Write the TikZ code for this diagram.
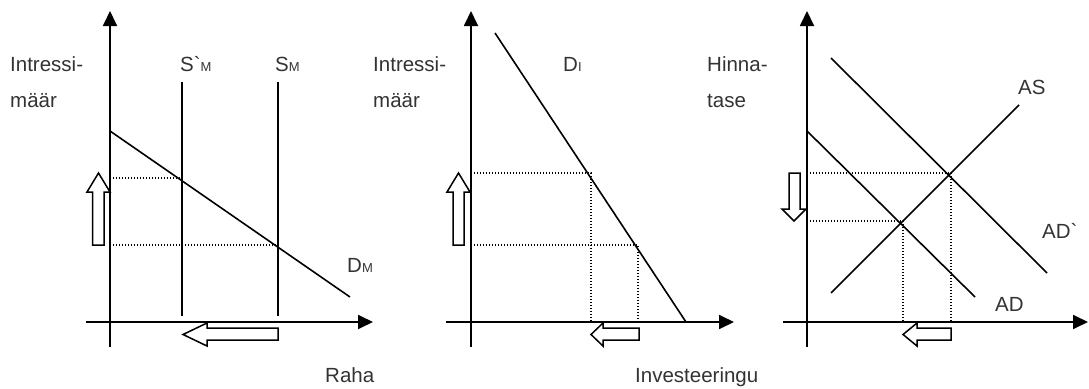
\documentclass[tikz,border=0pt]{standalone}
\usepackage{fontspec}
\newfontfamily\labfont{Liberation Sans}
\usetikzlibrary{arrows.meta}
\tikzset{
  axisline/.style={line width=1.8pt, -{Triangle[length=15pt,width=14pt]}},
  curve/.style={line width=1.6pt},
  guide/.style={line width=1.1pt, dash pattern=on 1.1pt off 1.9pt},
  hollow/.style={line width=1.5pt, fill=white, line join=miter},
  lab/.style={anchor=base west, inner sep=0pt, text=black!80, font=\labfont\fontsize{20.5}{24}\selectfont}
}
\newcommand{\sbs}[1]{{\fontsize{13}{14}\selectfont #1}}
\begin{document}
\begin{tikzpicture}[x=1pt,y=-1pt]
\useasboundingbox (0,0) rectangle (1089,388);
% ---------- Panel 1 ----------
\coordinate (y1b) at (110,347); \coordinate (y1t) at (110,11);
\coordinate (x1l) at (86,322); \coordinate (x1r) at (373,322);
\draw[axisline] (y1b) -- (y1t);
\draw[axisline] (x1l) -- (x1r);
\coordinate (dm1) at (110,131); \coordinate (dm2) at (350,297);
\draw[curve] (dm1) -- (dm2);
\coordinate (sp1) at (182,82); \coordinate (sp2) at (182,316);
\coordinate (s1) at (278,82); \coordinate (s2) at (278,316);
\draw[curve] (sp1) -- (sp2);
\draw[curve] (s1) -- (s2);
\coordinate (g1a) at (113,178); \coordinate (g1b) at (182,178);
\coordinate (g1c) at (113,245); \coordinate (g1d) at (278,245);
\draw[guide] (g1a) -- (g1b);
\draw[guide] (g1c) -- (g1d);
\draw[hollow] (92.5,245) -- (92.5,192) -- (87,192) -- (98.5,173) -- (110,192) -- (104,192) -- (104,245) -- cycle;
\draw[hollow] (278,328) -- (207,328) -- (207,323) -- (183,334.5) -- (207,346) -- (207,340) -- (278,340) -- cycle;
\node[lab] (l1a) at (10,71) {Intressi-};
\node[lab] (l1b) at (10,107) {määr};
\node[lab] (lsp) at (180,71) {S`\sbs{M}};
\node[lab] (ls) at (275,71) {S\sbs{M}};
\node[lab] (ldm) at (347,272) {D\sbs{M}};
\node[lab] (lraha) at (325,382) {Raha};
% ---------- Panel 2 ----------
\coordinate (y2b) at (471,347); \coordinate (y2t) at (471,11);
\coordinate (x2l) at (446,322); \coordinate (x2r) at (734,322);
\draw[axisline] (y2b) -- (y2t);
\draw[axisline] (x2l) -- (x2r);
\coordinate (di1) at (495,33); \coordinate (di2) at (686,322);
\draw[curve] (di1) -- (di2);
\coordinate (g2a) at (474,173); \coordinate (g2b) at (591,173); \coordinate (g2e) at (591,322);
\coordinate (g2c) at (474,245); \coordinate (g2d) at (638,245); \coordinate (g2f) at (638,322);
\draw[guide] (g2a) -- (g2b) -- (g2e);
\draw[guide] (g2c) -- (g2d) -- (g2f);
\draw[hollow] (453,245) -- (453,192) -- (447,192) -- (458.5,173) -- (470,192) -- (464,192) -- (464,245) -- cycle;
\draw[hollow] (639,328) -- (603,328) -- (603,323) -- (591,334.5) -- (603,346) -- (603,340) -- (639,340) -- cycle;
\node[lab] (l2a) at (373,71) {Intressi-};
\node[lab] (l2b) at (373,107) {määr};
\node[lab] (ldi) at (563,71) {D\sbs{I}};
\node[lab] (linv) at (635,382) {Investeeringu};
% ---------- Panel 3 ----------
\coordinate (y3b) at (807,347); \coordinate (y3t) at (807,11);
\coordinate (x3l) at (783,322); \coordinate (x3r) at (1088,322);
\draw[axisline] (y3b) -- (y3t);
\draw[axisline] (x3l) -- (x3r);
\coordinate (ad1) at (807,131); \coordinate (ad2) at (975,297);
\coordinate (adp1) at (831,58); \coordinate (adp2) at (1047,273);
\coordinate (as1) at (831,293); \coordinate (as2) at (1019,105);
\draw[curve] (ad1) -- (ad2);
\draw[curve] (adp1) -- (adp2);
\draw[curve] (as1) -- (as2);
\coordinate (g3a) at (810,173); \coordinate (g3b) at (951,173); \coordinate (g3e) at (951,322);
\coordinate (g3c) at (810,221); \coordinate (g3d) at (903,221); \coordinate (g3f) at (903,322);
\draw[guide] (g3a) -- (g3b) -- (g3e);
\draw[guide] (g3c) -- (g3d) -- (g3f);
\draw[hollow] (789,173) -- (789,209) -- (782,209) -- (794,221) -- (806,209) -- (800,209) -- (800,173) -- cycle;
\draw[hollow] (951,328) -- (917,328) -- (917,323) -- (903,334.5) -- (917,346) -- (917,340) -- (951,340) -- cycle;
\node[lab] (l3a) at (707,71) {Hinna-};
\node[lab] (l3b) at (707,107) {tase};
\node[lab] (las) at (1018,94) {AS};
\node[lab] (ladp) at (1042,238) {AD`};
\node[lab] (lad) at (995,311) {AD};
\end{tikzpicture}
\end{document}
